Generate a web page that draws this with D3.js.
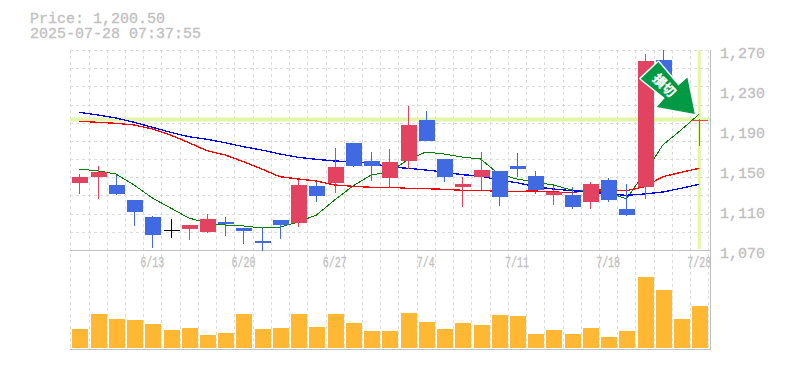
<!DOCTYPE html>
<html>
<head>
<meta charset="utf-8">
<script src="https://cdn.jsdelivr.net/npm/d3@7"></script>
<style>
  html, body { margin: 0; padding: 0; background: #fff; }
  svg { display: block; }
  text { font-family: "Liberation Mono", monospace; fill: #c0c0c0; stroke: #c0c0c0; stroke-width: 0.3; }
</style>
</head>
<body>
<svg id="chart" width="785" height="370"></svg>
<script>
const dates = ["6/9","6/10","6/11","6/12","6/13","6/16","6/17","6/18","6/19","6/20","6/23","6/24","6/25","6/26","6/27","6/30","7/1","7/2","7/3","7/4","7/7","7/8","7/9","7/10","7/11","7/14","7/15","7/16","7/17","7/18","7/22","7/23","7/24","7/25","7/28"];
const opens  = [1137,1143,1135,1120,1103,1090,1091,1088,1098,1092,1079,1100,1097,1134,1137,1177,1159,1142,1159,1200,1161,1133,1143,1149,1154,1144,1125,1125,1118,1140,1111,1133,1260,1230,1199];
const closes = [1143,1148,1126,1108,1085,1090,1095,1101,1096,1089,1077,1095,1135,1124,1153,1154,1154,1158,1195,1179,1143,1136,1150,1123,1151,1130,1128,1113,1136,1120,1105,1259,1245,1225,1200.5];
const highs  = [1146,1154,1145,1120,1104,1101,1095,1106,1103,1092,1093,1100,1140,1138,1172,1177,1168,1171,1214,1209,1161,1143,1168,1149,1167,1149,1134,1133,1138,1142,1136,1266,1270,1235,1201];
const lows   = [1126,1121,1125,1094,1072,1082,1080,1087,1084,1076,1069,1081,1093,1118,1127,1153,1139,1132,1151,1179,1138,1113,1130,1114,1143,1126,1115,1111,1111,1118,1104,1121,1240,1220,1174];
const maShort = [1150.7,1149.3,1146,1135,1122,1112,1102,1097,1095,1094,1092,1093,1098,1105,1120,1134,1145,1148,1160,1168,1166,1163,1161,1146,1141,1138,1135,1130,1130,1128,1121,1147,1175,1190,1206];
const maMid   = [1198.7,1197.7,1196.7,1195,1191,1185,1177.3,1169.3,1165,1158.3,1151,1143.3,1141,1139,1135,1133.7,1132.7,1132.7,1131.7,1131.3,1130.7,1129.7,1129.3,1129,1128.7,1129,1128,1127.5,1129.7,1130,1129.3,1133.3,1143.3,1147.7,1151.7];
const maLong  = [1207.7,1205,1202,1197.7,1192.7,1187.7,1183.3,1180.7,1177.3,1173.3,1170,1166,1162.7,1160.7,1159,1158.3,1156.7,1153.3,1151.7,1150,1148,1145.3,1144,1140,1137.3,1133.3,1131,1129.3,1128.3,1126,1124.7,1126,1128,1131.7,1135.7];
const volumes = [19,34,29,28,24,18,20,13,15,34,19,20,34,21,34,25,17,17,35,26,19,25,23,33,32,14,18,14,20,11,17,71,58,29,42];
const priceTicks = [1270,1230,1190,1150,1110,1070];
const dateTicks = ["6/13","6/20","6/27","7/4","7/11","7/18","7/28"];
const lastPrice = 1200.5;
const titleLines = ["Price: 1,200.50", "2025-07-28 07:37:55"];

const RED = "#e24361", BLUE = "#4169e1", GRID = "#dcdcdc", FRAME = "#c0c0c0", MARK = "#e3f5a8";

const svg = d3.select("#chart");
const x = d3.scaleBand().domain(dates).range([70.3, 708.4]);
const y = d3.scaleLinear().domain([1070, 1270]).range([250, 50]);
const yVol = d3.scaleLinear().domain([0, 100]).range([348, 248]);
const cx = d => x(d) + x.bandwidth() / 2;
const bodyW = 16;

// ---------- grid ----------
const gGrid = svg.append("g").attr("stroke", GRID).attr("stroke-dasharray", "3 3").attr("shape-rendering", "crispEdges");
gGrid.selectAll("line.v").data(d3.range(dates.length + 1)).join("line").attr("class", "v")
  .attr("x1", i => Math.round(70.3 + i * x.bandwidth()) + 0.5).attr("x2", i => Math.round(70.3 + i * x.bandwidth()) + 0.5)
  .attr("y1", 50).attr("y2", 350);
gGrid.selectAll("line.h").data(d3.range(12)).join("line").attr("class", "h")
  .attr("x1", 70).attr("x2", 710)
  .attr("y1", i => Math.round(50 + i * 200 / 11) + 0.5).attr("y2", i => Math.round(50 + i * 200 / 11) + 0.5);

// ---------- current price cross ----------
svg.append("line").attr("x1", 70).attr("x2", 710).attr("y1", y(lastPrice)).attr("y2", y(lastPrice))
  .attr("stroke", MARK).attr("stroke-width", 4);
svg.append("line").attr("x1", cx("7/28")).attr("x2", cx("7/28")).attr("y1", 50).attr("y2", 249)
  .attr("stroke", MARK).attr("stroke-width", 3);

// ---------- frame ----------
const gFrame = svg.append("g").attr("stroke", FRAME).attr("shape-rendering", "crispEdges");
gFrame.append("line").attr("x1", 70).attr("x2", 710).attr("y1", 250.5).attr("y2", 250.5);
gFrame.append("line").attr("x1", 70).attr("x2", 711).attr("y1", 349.5).attr("y2", 349.5).attr("stroke-width", 1.5);
gFrame.append("line").attr("x1", 710.5).attr("x2", 710.5).attr("y1", 50).attr("y2", 350);

// ---------- moving averages, candles go on top ----------
const line = d3.line().x((v, i) => cx(dates[i])).y(v => y(v));
[[maShort, "#008000", 1], [maMid, "#ff0000", 1.3], [maLong, "#0000ff", 1.3]].forEach(([vals, c, w]) => {
  svg.append("path").attr("d", line(vals)).attr("fill", "none").attr("stroke", c).attr("stroke-width", w)
    .attr("shape-rendering", "crispEdges");
});

// ---------- candles ----------
const rows = dates.map((d, i) => ({ d, o: opens[i], c: closes[i], h: highs[i], l: lows[i], v: volumes[i] }));
const col = r => r.c > r.o ? RED : r.c < r.o ? BLUE : "#000";
const gCandle = svg.append("g").attr("shape-rendering", "crispEdges");
gCandle.selectAll("line.wick").data(rows).join("line").attr("class", "wick")
  .attr("x1", r => Math.round(cx(r.d)) + 0.5).attr("x2", r => Math.round(cx(r.d)) + 0.5)
  .attr("y1", r => y(r.h)).attr("y2", r => y(r.l)).attr("stroke", col);
gCandle.selectAll("rect.body").data(rows).join("rect").attr("class", "body")
  .attr("x", r => Math.round(cx(r.d)) + 0.5 - bodyW / 2).attr("width", bodyW)
  .attr("y", r => y(Math.max(r.o, r.c))).attr("height", r => Math.max(1, Math.abs(y(r.o) - y(r.c))))
  .attr("fill", col);

// ---------- volume ----------
svg.append("g").selectAll("rect").data(rows).join("rect")
  .attr("x", r => Math.round(cx(r.d)) + 0.5 - bodyW / 2).attr("width", bodyW)
  .attr("y", r => yVol(r.v)).attr("height", r => yVol(0) - yVol(r.v))
  .attr("fill", "#ffb833").attr("shape-rendering", "crispEdges");

// ---------- axes ----------
const gy = svg.append("g").attr("transform", "translate(720,3)")
  .call(d3.axisRight(y).tickValues(priceTicks).tickSize(0).tickPadding(0).tickFormat(d3.format(",")));
gy.select(".domain").remove();
gy.selectAll("text").attr("font-size", 15).attr("fill", FRAME).attr("font-family", "Liberation Mono");

const gx = svg.append("g").attr("transform", "translate(0,250)")
  .call(d3.axisBottom(x).tickValues(dateTicks).tickSize(0).tickPadding(6));
gx.select(".domain").remove();
gx.selectAll("text").attr("font-size", 15).attr("fill", FRAME).attr("font-family", "Liberation Mono")
  .attr("textLength", d => d.length * 6).attr("lengthAdjust", "spacingAndGlyphs");

// ---------- title ----------
svg.append("g").selectAll("text").data(titleLines).join("text")
  .attr("x", 30).attr("y", (d, i) => 23 + i * 15).attr("font-size", 15).attr("fill", FRAME).text(d => d);

// ---------- arrow marker, placed from the candle it points at ----------
const tipX = cx("7/28") - 4.5, tipY = y(1206);
const arrowPath = "M-36.4,-52 L-54,-35.3 L-30,-16 L-38,-7 L0,0 L-7.4,-36.6 L-16.4,-28.6 Z";
const gArrow = svg.append("g").attr("transform", `translate(${tipX},${tipY})`);
gArrow.append("path").attr("d", arrowPath).attr("fill", "#009944")
  .attr("stroke", "#fff").attr("stroke-width", 3).attr("stroke-linejoin", "round").attr("paint-order", "stroke");
gArrow.append("text").attr("transform", "translate(-30.5,-28.6) rotate(45)")
  .attr("text-anchor", "middle").attr("dy", "0.35em").attr("font-size", 13).attr("font-weight", 700)
  .style("font-family", "'Noto Sans CJK JP'").style("fill", "#fff").style("stroke", "#fff").text("損切");
</script>
</body>
</html>
